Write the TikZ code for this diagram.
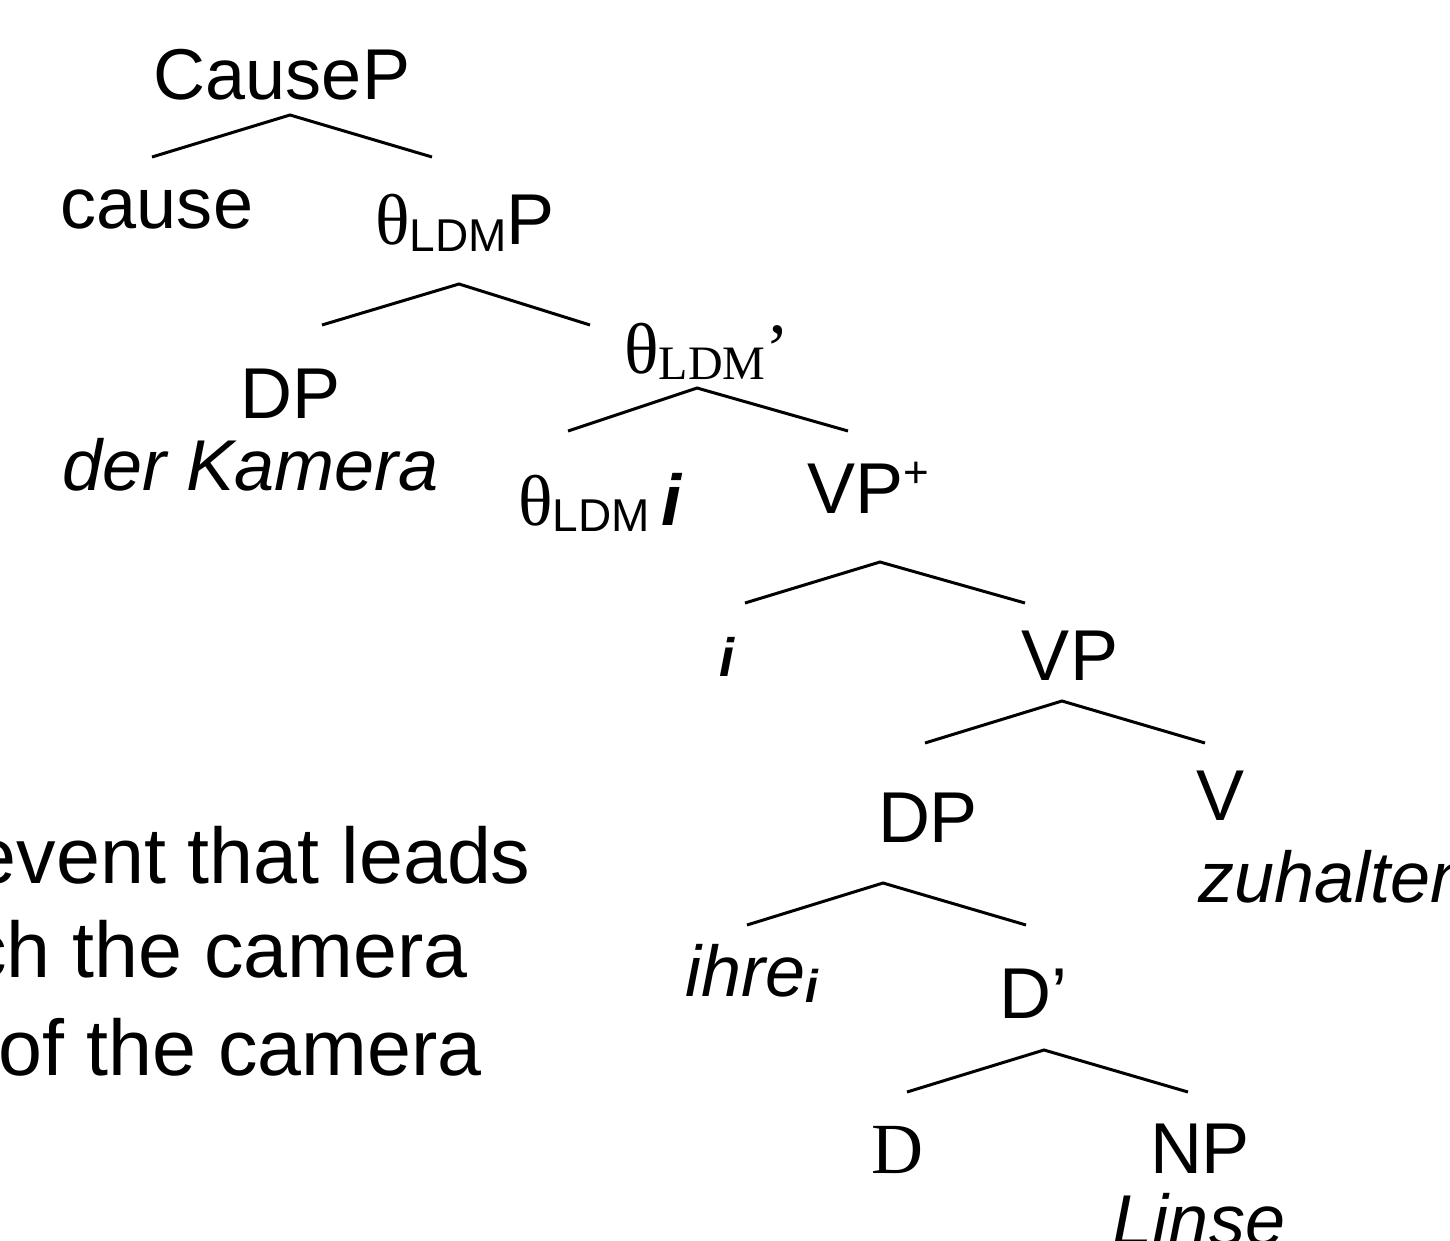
\documentclass[tikz,border=0pt]{standalone}
\usepackage{fontspec}
\setmainfont{Liberation Sans}
\newfontfamily\tms{Liberation Serif}
\newcommand\sbA[1]{\raisebox{-3pt}{\fontsize{23}{23}\selectfont #1}}
\newcommand\sbT[1]{\raisebox{-3pt}{\fontsize{24}{24}\selectfont\tms #1}}
\newcommand\thT{{\tms θ}}
\begin{document}
\begin{tikzpicture}[x=0.5pt,y=-0.5pt,
  lab/.style={anchor=base, inner sep=0pt, font=\fontsize{36}{40}\selectfont},
  labw/.style={lab, anchor=base west},
  txt/.style={anchor=base east, inner sep=0pt, font=\fontsize{39.5}{44}\selectfont},
  branch/.style={line width=1.5pt}]
\useasboundingbox (0,0) rectangle (1450,1241);
\clip (0,0) rectangle (1450,1241);

% labels
\node[lab] (causep) at (282,100) {CauseP};
\node[lab] (cause) at (157,228) {cause};
\node[lab] (thp) at (465,245) {\thT\sbA{LDM}P};
\node[lab] (dp1) at (291,418) {DP};
\node[lab] (kam) at (251,490) {\itshape der Kamera};
\node[lab] (thbar) at (707,373) {\tms θ\sbT{LDM}’};
\node[lab] (thi) at (600,525) {\thT\sbA{LDM}\,{\bfseries\itshape i}};
\node[lab] (vpp) at (868,513) {VP\raisebox{13pt}{\fontsize{22}{22}\selectfont +}};
\node[lab, font=\fontsize{27}{30}\selectfont\bfseries\itshape] (iv) at (727,676) {i};
\node[lab] (vp) at (1070,680) {VP};
\node[lab] (dp2) at (928,842) {DP};
\node[lab] (v) at (1220,820) {V};
\node[labw] (zuh) at (1198,902) {\itshape zuhalten};
\node[labw] (ihre) at (685,996) {\itshape ihre\sbA{\bfseries i}};
\node[lab] (dbar) at (1033,1018) {D’};
\node[lab] (d) at (897,1173) {\tms D};
\node[lab] (np) at (1200,1173) {NP};
\node[lab] (linse) at (1199,1245) {\itshape Linse};

% running text
\node[txt] (t1) at (531,883) {event that leads};
\node[txt] (t2) at (468,977) {ch the camera};
\node[txt] (t3) at (482,1075) {of the camera};

% branch points
\coordinate (a1) at (290,115); \coordinate (a1l) at (152,157); \coordinate (a1r) at (432,157);
\coordinate (a2) at (459,284); \coordinate (a2l) at (322,325); \coordinate (a2r) at (590,325);
\coordinate (a3) at (697,388); \coordinate (a3l) at (568,431); \coordinate (a3r) at (848,431);
\coordinate (a4) at (880,562); \coordinate (a4l) at (745,603); \coordinate (a4r) at (1025,603);
\coordinate (a5) at (1062,701); \coordinate (a5l) at (925,743); \coordinate (a5r) at (1205,743);
\coordinate (a6) at (883,883); \coordinate (a6l) at (747,925); \coordinate (a6r) at (1026,925);
\coordinate (a7) at (1044,1050); \coordinate (a7l) at (907,1092); \coordinate (a7r) at (1188,1092);

\foreach \n in {a1,a2,a3,a4,a5,a6,a7}
  \draw[branch] (\n l) -- (\n) -- (\n r);
\end{tikzpicture}
\end{document}
